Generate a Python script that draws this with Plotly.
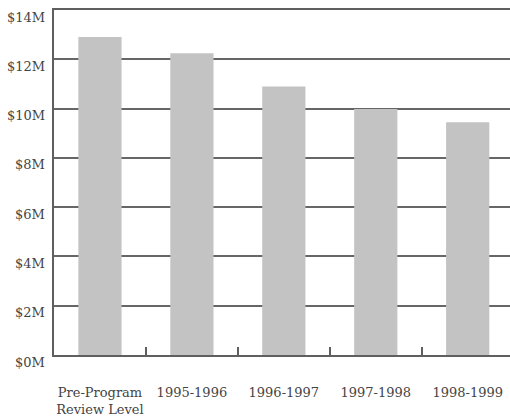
import plotly.graph_objects as go

categories = ["Pre-Program<br>Review Level", "1995-1996", "1996-1997", "1997-1998", "1998-1999"]
values = [12.9, 12.25, 10.9, 9.98, 9.45]  # millions of dollars
y_ticks = [0, 2, 4, 6, 8, 10, 12, 14]
y_tick_labels = ["$%dM" % v for v in y_ticks]

FONT = dict(family="DejaVu Serif, serif", size=13, color="#444444")

fig = go.Figure()
fig.add_trace(go.Bar(
    x=categories,
    y=values,
    marker=dict(color="#c3c3c3", line=dict(width=0)),
    width=0.47,
))

# y tick labels sit slightly below their gridlines
for v, lab in zip(y_ticks, y_tick_labels):
    fig.add_annotation(
        x=0, xref="paper", xanchor="right", xshift=-7,
        y=v, yref="y", yshift=-7,
        text=lab, showarrow=False, font=FONT,
    )

fig.update_layout(
    width=510, height=417,
    margin=dict(l=54, r=0, t=10, b=62),
    paper_bgcolor="white",
    plot_bgcolor="white",
    showlegend=False,
    font=FONT,
)
fig.update_xaxes(
    range=[-0.5, 4.46],
    automargin=False,
    tickangle=0,
    showgrid=False,
    showline=True, mirror=True, linecolor="#5f5f5f", linewidth=1.5,
    ticks="inside", tickson="boundaries", ticklen=8, tickwidth=1.5, tickcolor="#5f5f5f",
    tickfont=FONT,
    ticklabelstandoff=25,
)
fig.update_yaxes(
    range=[0, 14],
    automargin=False,
    tickvals=y_ticks,
    showticklabels=False,
    showgrid=True, gridcolor="#666666", gridwidth=1.5,
    showline=True, linecolor="#5f5f5f", linewidth=1.5,
    zeroline=False,
    ticks="",
)

fig.write_html("out.html")
